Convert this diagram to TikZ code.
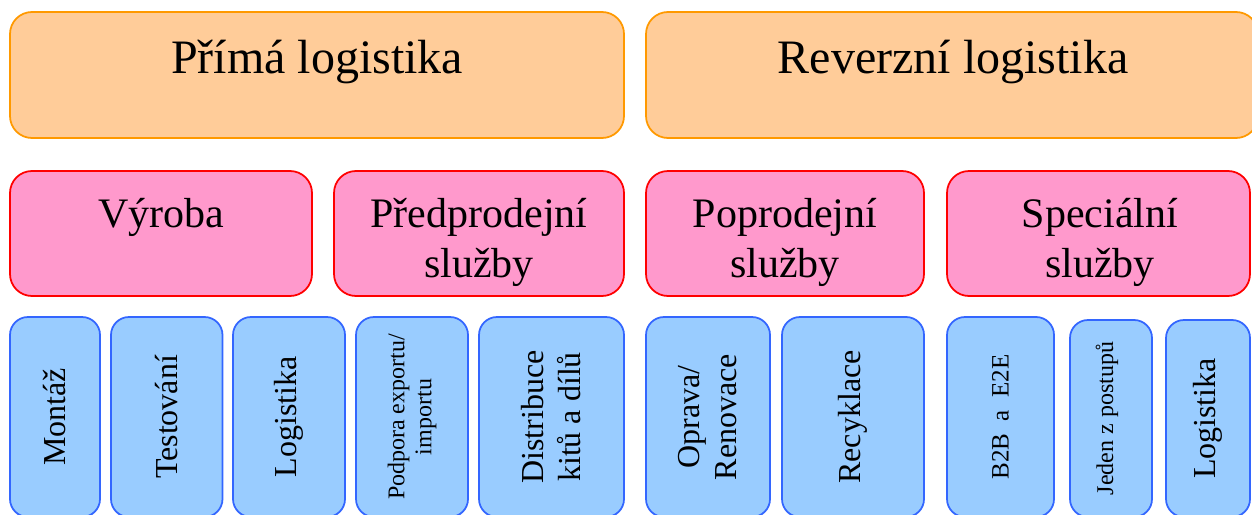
\documentclass[tikz,border=0pt]{standalone}
\usepackage{fontspec}
\setmainfont{Liberation Serif}
\usetikzlibrary{fit}
\definecolor{orfill}{HTML}{FFCC99}
\definecolor{ordraw}{HTML}{FF9900}
\definecolor{pkfill}{HTML}{FF99CC}
\definecolor{pkdraw}{HTML}{FF0000}
\definecolor{blfill}{HTML}{99CCFF}
\definecolor{bldraw}{HTML}{3366FF}
\begin{document}
\begin{tikzpicture}[x=1pt,y=-1pt,
  box/.style={rectangle, inner sep=0pt, line width=1.75pt},
  topbox/.style={box, rounded corners=22pt, fill=orfill, draw=ordraw},
  midbox/.style={box, rounded corners=22pt, fill=pkfill, draw=pkdraw},
  leafbox/.style={box, rounded corners=18pt, fill=blfill, draw=bldraw},
  toplabel/.style={anchor=base, inner sep=0pt, font=\fontsize{48}{58}\selectfont},
  midlabel/.style={anchor=base, inner sep=0pt, font=\fontsize{42}{50}\selectfont},
  leaflabel/.style={rotate=90, inner sep=0pt, align=center, font=\fontsize{32}{37}\selectfont},
  smalllabel/.style={rotate=90, inner sep=0pt, align=center, font=\fontsize{24}{27}\selectfont},
]
\useasboundingbox (0,0) rectangle (1252,514);
\clip (0,0) rectangle (1252,514);

% top level
\node[topbox, fit={(10,12) (624,138)}] (prima) {};
\node[topbox, fit={(646,12) (1258,138)}] (reverzni) {};
\node[toplabel] (primaT) at (317,73) {Přímá logistika};
\node[toplabel] (reverzniT) at (953,73) {Reverzní logistika};

% service groups
\node[midbox, fit={(10,171) (312,296)}] (vyroba) {};
\node[midbox, fit={(334,171) (624,296)}] (predprodej) {};
\node[midbox, fit={(646,171) (924,296)}] (poprodej) {};
\node[midbox, fit={(947,171) (1250,296)}] (specialni) {};
\node[midlabel] (vyrobaT) at (161,227) {Výroba};
\node[midlabel] (predprodejT) at (479,227) {\parbox[t]{300pt}{\centering Předprodejní\\služby}};
\node[midlabel] (poprodejT) at (785,227) {\parbox[t]{300pt}{\centering Poprodejní\\služby}};
\node[midlabel] (specialniT) at (1100,227) {\parbox[t]{300pt}{\centering Speciální\\služby}};

% individual services
\node[leafbox, fit={(10,317) (100,517)}] (montaz) {};
\node[leafbox, fit={(111,317) (222.5,517)}] (testovani) {};
\node[leafbox, fit={(233,317) (345,517)}] (logistika) {};
\node[leafbox, fit={(356,317) (468,517)}] (podpora) {};
\node[leafbox, fit={(479,317) (624,517)}] (distribuce) {};
\node[leafbox, fit={(646,317) (770,517)}] (oprava) {};
\node[leafbox, fit={(782,317) (924,517)}] (recyklace) {};
\node[leafbox, fit={(947,317) (1054,517)}] (btob) {};
\node[leafbox, fit={(1070,320) (1152,517)}] (jeden) {};
\node[leafbox, fit={(1166,320) (1250,517)}] (logistika2) {};

\node[leaflabel] at (montaz.center) {Montáž};
\node[leaflabel] at (testovani.center) {Testování};
\node[leaflabel] at (logistika.center) {Logistika};
\node[smalllabel] at (podpora.center) {Podpora exportu/\\importu};
\node[leaflabel] at (distribuce.center) {Distribuce\\kitů a dílů};
\node[leaflabel] at (oprava.center) {Oprava/\\Renovace};
\node[leaflabel] at (recyklace.center) {Recyklace};
\node[smalllabel, font=\fontsize{25}{29}\selectfont] at (btob.center) {B2B~~a~~E2E};
\node[smalllabel] at ([xshift=-4pt]jeden.center) {Jeden z postupů};
\node[leaflabel] at (logistika2.center) {Logistika};
\end{tikzpicture}
\end{document}
